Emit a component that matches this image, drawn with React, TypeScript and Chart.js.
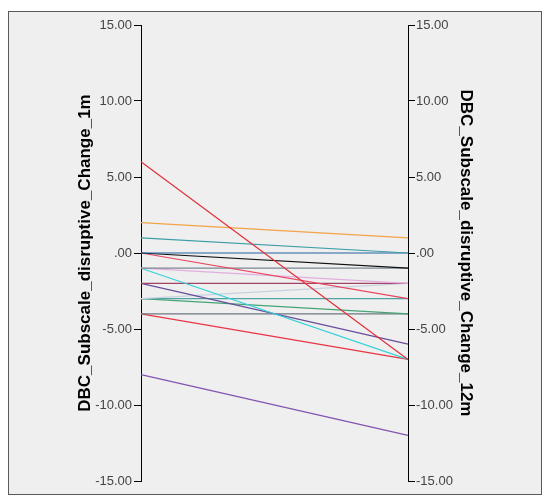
import React, { useEffect, useRef } from "react";
import { Chart, registerables } from "chart.js";

Chart.register(...registerables);

const categories = ["1m", "12m"];
const leftTitle = "DBC_Subscale_disruptive_Change_1m";
const rightTitle = "DBC_Subscale_disruptive_Change_12m";
const tickValues = [15, 10, 5, 0, -5, -10, -15];

// one entry per case: value at 1m and value at 12m
const change1m = [6, 2, 1, 0, 0, 0, -1, -1, -1, -2, -2, -3, -3, -3, -4, -4, -8];
const change12m = [-7, 1, 0, 0, -1, -3, -1, -2, -7, -2, -6, -2, -3, -4, -4, -7, -12];
const lineColors = [
  "#e2303c",
  "#f2a446",
  "#3e9ea8",
  "#2462a2",
  "#111111",
  "#e64660",
  "#7a8894",
  "#e2aee0",
  "#36d2d8",
  "#a44464",
  "#6a4c9c",
  "#c6d2e0",
  "#52a2a4",
  "#44a474",
  "#6e7882",
  "#ea3444",
  "#8254b2",
];

function fmt(v: number): string {
  if (v === 0) return ".00";
  return v.toFixed(2);
}

export default function App() {
  const ref = useRef<HTMLCanvasElement | null>(null);

  useEffect(() => {
    if (!ref.current) return;
    const datasets = change1m.map((v, i) => ({
      label: "case " + (i + 1),
      data: [v, change12m[i]],
      borderColor: lineColors[i],
      backgroundColor: lineColors[i],
      borderWidth: 1.2,
      pointRadius: 0,
      yAxisID: "yL",
    }));
    const tickFont = { family: "'Liberation Sans', Arial, sans-serif", size: 13 };
    const titleFont = { family: "'Liberation Sans', Arial, sans-serif", size: 17, weight: "bold" as const };
    const chart = new Chart(ref.current, {
      type: "line",
      data: { labels: categories, datasets },
      options: {
        animation: false,
        responsive: false,
        layout: { padding: { top: 13, bottom: 13, left: 0, right: 0 } },
        plugins: { legend: { display: false }, tooltip: { enabled: false } },
        scales: {
          x: { type: "category", display: false, offset: false },
          yL: {
            position: "left",
            min: -15,
            max: 15,
            afterBuildTicks: (s: any) => {
              s.ticks = tickValues.map((v) => ({ value: v }));
            },
            afterFit: (s: any) => {
              s.width = 132;
            },
            ticks: {
              callback: (v: any) => fmt(Number(v)),
              font: tickFont,
              color: "#444",
              padding: 2,
            },
            grid: { drawOnChartArea: false, drawTicks: true, tickLength: 7, color: "#000" },
            border: { display: true, color: "#000", width: 1 },
            title: {
              display: true,
              text: leftTitle,
              font: titleFont,
              color: "#000",
              padding: { top: 66, bottom: 0 },
            },
          },
          yR: {
            position: "right",
            min: -15,
            max: 15,
            afterBuildTicks: (s: any) => {
              s.ticks = tickValues.map((v) => ({ value: v }));
            },
            afterFit: (s: any) => {
              s.width = 133;
            },
            ticks: {
              callback: (v: any) => fmt(Number(v)),
              font: tickFont,
              color: "#444",
              padding: 1,
            },
            grid: { drawOnChartArea: false, drawTicks: true, tickLength: 7, color: "#000" },
            border: { display: true, color: "#000", width: 1 },
            title: {
              display: true,
              text: rightTitle,
              font: titleFont,
              color: "#000",
              padding: { top: 65, bottom: 0 },
            },
          },
        },
      },
    } as any);
    return () => chart.destroy();
  }, []);

  return (
    <div style={{ paddingTop: 3 }}>
      <div
        style={{
          width: 532,
          height: 482,
          border: "1px solid #5a5a5a",
          background: "#efefef",
        }}
      >
        <canvas ref={ref} width={532} height={482} style={{ display: "block" }} />
      </div>
    </div>
  );
}
